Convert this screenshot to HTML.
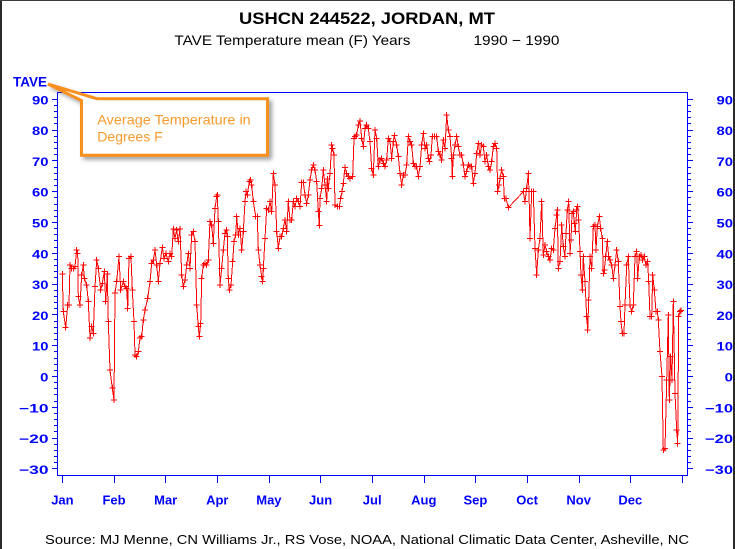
<!DOCTYPE html>
<html>
<head>
<meta charset="utf-8">
<style>
html,body{margin:0;padding:0;background:#fff;}
body{width:735px;height:549px;overflow:hidden;}
svg{display:block;}
</style>
</head>
<body>
<svg width="735" height="549" viewBox="0 0 735 549" xmlns="http://www.w3.org/2000/svg">
<defs>
<marker id="p" markerWidth="7" markerHeight="7" refX="3.5" refY="3.5" markerUnits="userSpaceOnUse">
<path d="M0.5 3.5h6M3.5 0.5v6" stroke="#ff0000" stroke-width="1" fill="none" shape-rendering="crispEdges"/>
</marker>
<filter id="sh" x="-10%" y="-20%" width="130%" height="160%">
<feDropShadow dx="3" dy="3" stdDeviation="2" flood-color="#555" flood-opacity="0.55"/>
</filter>
</defs>
<rect x="0" y="0" width="735" height="549" fill="#fff"/>
<!-- outer borders -->
<rect x="0" y="0" width="2" height="549" fill="#2a2a2a"/>
<rect x="733" y="0" width="2" height="549" fill="#2a2a2a"/>
<rect x="0" y="0" width="735" height="1" fill="#3a3a3a"/>

<!-- titles -->
<g font-family="Liberation Sans, Arial, sans-serif" fill="#000">
<text x="239" y="24" font-size="17" font-weight="bold" textLength="256" lengthAdjust="spacingAndGlyphs">USHCN 244522, JORDAN, MT</text>
<text x="174.4" y="45" font-size="14" textLength="236" lengthAdjust="spacingAndGlyphs">TAVE Temperature mean (F) Years</text>
<text x="473.5" y="45" font-size="14" textLength="86" lengthAdjust="spacingAndGlyphs">1990 − 1990</text>
<text x="45" y="544" font-size="12.5" textLength="644" lengthAdjust="spacingAndGlyphs">Source: MJ Menne, CN Williams Jr., RS Vose, NOAA, National Climatic Data Center, Asheville, NC</text>
</g>

<!-- frame -->
<rect x="57.5" y="92.5" width="630" height="383" fill="none" stroke="#0000ff" stroke-width="1"/>

<!-- y ticks -->
<g stroke="#0000ff" stroke-width="1" fill="none" shape-rendering="crispEdges">
<path d="M52 99.5h5M52 130.5h5M52 160.5h5M52 191.5h5M52 222.5h5M52 253.5h5M52 284.5h5M52 314.5h5M52 345.5h5M52 376.5h5M52 407.5h5M52 438.5h5M52 468.5h5"/>
<path d="M688 99.5h5M688 130.5h5M688 160.5h5M688 191.5h5M688 222.5h5M688 253.5h5M688 284.5h5M688 314.5h5M688 345.5h5M688 376.5h5M688 407.5h5M688 438.5h5M688 468.5h5"/>
<path d="M54 105.5h3M54 111.5h3M54 117.5h3M54 123.5h3M54 136.5h3M54 142.5h3M54 148.5h3M54 154.5h3M54 167.5h3M54 173.5h3M54 179.5h3M54 185.5h3M54 197.5h3M54 204.5h3M54 210.5h3M54 216.5h3M54 228.5h3M54 234.5h3M54 240.5h3M54 247.5h3M54 259.5h3M54 265.5h3M54 271.5h3M54 277.5h3M54 290.5h3M54 296.5h3M54 302.5h3M54 308.5h3M54 321.5h3M54 327.5h3M54 333.5h3M54 339.5h3M54 351.5h3M54 358.5h3M54 364.5h3M54 370.5h3M54 382.5h3M54 388.5h3M54 394.5h3M54 401.5h3M54 413.5h3M54 419.5h3M54 425.5h3M54 431.5h3M54 444.5h3M54 450.5h3M54 456.5h3M54 462.5h3"/>
<path d="M688 105.5h3M688 111.5h3M688 117.5h3M688 123.5h3M688 136.5h3M688 142.5h3M688 148.5h3M688 154.5h3M688 167.5h3M688 173.5h3M688 179.5h3M688 185.5h3M688 197.5h3M688 204.5h3M688 210.5h3M688 216.5h3M688 228.5h3M688 234.5h3M688 240.5h3M688 247.5h3M688 259.5h3M688 265.5h3M688 271.5h3M688 277.5h3M688 290.5h3M688 296.5h3M688 302.5h3M688 308.5h3M688 321.5h3M688 327.5h3M688 333.5h3M688 339.5h3M688 351.5h3M688 358.5h3M688 364.5h3M688 370.5h3M688 382.5h3M688 388.5h3M688 394.5h3M688 401.5h3M688 413.5h3M688 419.5h3M688 425.5h3M688 431.5h3M688 444.5h3M688 450.5h3M688 456.5h3M688 462.5h3"/>
<!-- x ticks -->
<path d="M62.5 476v7M114.5 476v7M165.5 476v7M217.5 476v7M269.5 476v7M320.5 476v7M372.5 476v7M424.5 476v7M475.5 476v7M527.5 476v7M579.5 476v7M630.5 476v7M682.5 476v7"/>
</g>

<!-- y labels -->
<g font-family="Liberation Sans, Arial, sans-serif" font-weight="bold" font-size="12" fill="#0000ff">
<text x="13" y="86.7" font-size="14" textLength="34" lengthAdjust="spacingAndGlyphs">TAVE</text>
<g text-anchor="end">
<text x="48.5" y="104.3" textLength="16.5" lengthAdjust="spacingAndGlyphs">90</text>
<text x="48.5" y="135.1" textLength="16.5" lengthAdjust="spacingAndGlyphs">80</text>
<text x="48.5" y="165.9" textLength="16.5" lengthAdjust="spacingAndGlyphs">70</text>
<text x="48.5" y="196.7" textLength="16.5" lengthAdjust="spacingAndGlyphs">60</text>
<text x="48.5" y="227.5" textLength="16.5" lengthAdjust="spacingAndGlyphs">50</text>
<text x="48.5" y="258.3" textLength="16.5" lengthAdjust="spacingAndGlyphs">40</text>
<text x="48.5" y="289.1" textLength="16.5" lengthAdjust="spacingAndGlyphs">30</text>
<text x="48.5" y="319.9" textLength="16.5" lengthAdjust="spacingAndGlyphs">20</text>
<text x="48.5" y="350.7" textLength="16.5" lengthAdjust="spacingAndGlyphs">10</text>
<text x="48.5" y="381.5" textLength="8.3" lengthAdjust="spacingAndGlyphs">0</text>
<text x="48.5" y="412.3" textLength="29.5" lengthAdjust="spacingAndGlyphs">−10</text>
<text x="48.5" y="443.1" textLength="29.5" lengthAdjust="spacingAndGlyphs">−20</text>
<text x="48.5" y="473.9" textLength="29.5" lengthAdjust="spacingAndGlyphs">−30</text>

<text x="733" y="104.3" textLength="16.5" lengthAdjust="spacingAndGlyphs">90</text>
<text x="733" y="135.1" textLength="16.5" lengthAdjust="spacingAndGlyphs">80</text>
<text x="733" y="165.9" textLength="16.5" lengthAdjust="spacingAndGlyphs">70</text>
<text x="733" y="196.7" textLength="16.5" lengthAdjust="spacingAndGlyphs">60</text>
<text x="733" y="227.5" textLength="16.5" lengthAdjust="spacingAndGlyphs">50</text>
<text x="733" y="258.3" textLength="16.5" lengthAdjust="spacingAndGlyphs">40</text>
<text x="733" y="289.1" textLength="16.5" lengthAdjust="spacingAndGlyphs">30</text>
<text x="733" y="319.9" textLength="16.5" lengthAdjust="spacingAndGlyphs">20</text>
<text x="733" y="350.7" textLength="16.5" lengthAdjust="spacingAndGlyphs">10</text>
<text x="733" y="381.5" textLength="8.3" lengthAdjust="spacingAndGlyphs">0</text>
<text x="733" y="412.3" textLength="28" lengthAdjust="spacingAndGlyphs">−10</text>
<text x="733" y="443.1" textLength="28" lengthAdjust="spacingAndGlyphs">−20</text>
<text x="733" y="473.9" textLength="28" lengthAdjust="spacingAndGlyphs">−30</text>
</g>
</g>

<!-- month labels -->
<g font-family="Liberation Sans, Arial, sans-serif" font-weight="bold" font-size="13" fill="#0000ff" text-anchor="middle">
<text x="62.4" y="504.3">Jan</text>
<text x="114" y="504.3">Feb</text>
<text x="165.7" y="504.3">Mar</text>
<text x="217.3" y="504.3">Apr</text>
<text x="268.9" y="504.3">May</text>
<text x="320.6" y="504.3">Jun</text>
<text x="372.2" y="504.3">Jul</text>
<text x="423.8" y="504.3">Aug</text>
<text x="475.4" y="504.3">Sep</text>
<text x="527.1" y="504.3">Oct</text>
<text x="578.7" y="504.3">Nov</text>
<text x="630.3" y="504.3">Dec</text>
</g>

<!-- data -->
<polyline fill="none" stroke="#ff0000" stroke-width="1" shape-rendering="crispEdges" stroke-linejoin="round" marker-start="url(#p)" marker-mid="url(#p)" marker-end="url(#p)" points="
62.3,274 63.3,311.7 65.7,327.7 67.7,305 69,305 70,265 71.7,268.3 73.3,268.3 75,266.7 76.7,250 77.7,253.3 78.3,296.7 80,305 81.7,275 83.3,265 84.3,278.3 86.7,285 88.3,301.7 90,338 91.7,326.7 93.3,333.3 95,286.7 96.7,260 98.3,268.3 100.7,290 102.3,283.3 104.3,271.7 105.7,301.7 107.3,274 108.3,321.7 110,370 112.3,388 114,400 115,293 116.7,281.7 119,256.7 120.7,290 123.3,281.7 125,286.7 126.7,288.3 127.7,308.3 129,258.3 131,256.7 132.3,290 134,321.7 135,355 136.7,356.7 138.3,351.7 140,338 141.7,336.7 143.3,320 145,310 147.7,298.3 150,281.7 151.7,263.3 153.3,260 155,250 156.7,265 158.3,281.7 160,263.3 162.3,247.3 164,258.3 166,253.3 168.3,261.7 170,253.3 171.7,256.7 173.3,229 175,238.3 176.7,230 178.3,241.7 180,229 181.7,275 183.3,286.7 185,280 186.7,265 188.3,253.3 190,268.3 191.7,235 193.3,231.7 195,241.7 196.7,305 198.3,326.7 199.3,336.7 200.7,323.3 201.7,278.3 203.3,265 205,263.3 206.7,265 208.3,260 210,221.7 211.7,225 213.3,243.3 215,208.3 216.7,196.7 217.3,195 218.3,221.7 220,285 221.7,268.3 223.3,250 225,233.3
226.7,230 227.3,236.7 228.3,278.3 229.3,290 231,285 232.7,261.7 234,241.7 235.7,235 236.7,216.7 238.3,235 240,228.3 241.7,250 243.3,231.7 245,201.7 246,191.7 247.3,195 249.3,181.7 250.7,180 251.7,185 253.3,201.7 255.7,216.7 257.3,216.7 258.3,250 260,265 261.7,276.7 262.7,281.7 263.3,268.3 265,238.3 266.7,208.3 268.3,210 270,201.7 271.7,211.7 273.3,173.3 275,185 276.7,231.7 278.3,248.3 280,236.7 281.7,236.7 283.3,228.3 285,220 286.7,231.7 288.3,201.7 290,220 291.7,220 293.3,201.7 295,206.7 296.7,198.3 298.3,201.7 300,206.7 301.7,182.3 303.3,182.3 305,195 306.7,203.3 308.3,195 310,180 311.7,170 313.3,165 315,170 316.7,181.7 318.3,211.7 319.3,225.7 320,198.3 321.7,188.3 323.3,170 325,185 326.7,201.7 327.3,179 328.3,188.3 330,173.3 331.7,145 332.7,148.3 334,155 335,205 337.3,206.7 339.3,206.7 340.7,198.3 342,191.7 343.3,183.3 345,167.7 346.7,173.3 348.3,176.7 350,178.3 352.7,176.7 354,138.3 355,136.7 356.7,135 358.3,125 360,121 361.7,138.3 363.3,146.7 365,128.3 366.7,125 368.3,128.3 370,141.7 371.7,168.3 373.3,175 375,130 376.7,138.3 378.3,166.7 380,160 381.7,158.3 383.3,163.3 385,166.7 386.7,160 388.3,138.3
390,141.7 391.7,158.3 393.3,141.7 394.3,135.7 396.7,145 398.3,156.7 400,173.3 401.7,185 403.3,175 405,175 406.7,165 408.3,136.7 410,141.7 411.7,145 413.3,163.3 415,166.7 416.7,166.7 418.3,176.7 420,166.7 421.7,145 423.3,133.3 425,148.3 426.7,145 428.3,158.3 429.3,161.7 431,155 432.3,136.7 434.3,136.7 436.7,136.7 438.3,151.7 440,155 441.7,160 443.3,140 445,148.3 446.7,115 448.3,130 450,136.7 451.7,158.3 452.3,176.7 453.3,155 455,145 456.7,136.7 458.3,146.7 460,155 461.7,155 463.3,165 465,176.7 466.7,171.7 468.3,165 470,166.7 471.7,166.7 473.3,183.3 475,173.3 476.7,153.3 478.3,143.3 480,155 481.7,145 483.3,146.7 485,161.7 486.7,155 488.3,166.7 490,170 491.7,161.7 493.3,146.7 495,143.3 496.7,148.3 497.7,191.7 499,185 500,178.3 501.7,170 503.3,176.7 504.3,198.3 506,198.3 508.3,207.7 523.3,191.7 525,201.7 526.7,188.3 528.3,173.3 529,191.7 530,238.3 531.7,191.7 533.3,191.7 535,248.3 536.7,275 538.3,250 540,238.3 541.7,201.7 543.3,255 545,245 546.7,251.7 548.3,256.7 550,260
551.7,248.3 553.3,250 555,228.3 556.7,215 557.3,210 558.3,268.3 560,261.7 561.7,225 563.3,246.7 565,256.7 566,233.3 567.3,210 568.7,201.7 570,253.3 571,240 572,213.3 573.3,211.7 574.3,223.3 575.3,231.7 576.7,210 577.7,206.7 578.7,220 580,251.7 581,275 582.3,290 583.3,256.7 585,281.7 586.7,316.7 587.7,330 588.7,300 590,256.7 591.7,268.3 593.3,226.7 595,225 596,250 597.3,226.7 599.3,216.7 600.7,228.3 602.3,238.3 603.3,273.3 604.3,270 605.7,256.7 607.3,241.7 608.7,256.7 610,260 611.7,265 613.3,278.3 615,265 616.7,250 618.3,261.7 620,306.7 621,321.7 622.3,333.3 624,333.3 625,305 626.7,265 628.3,256.7 630,305 631.7,311.7 633.3,305 635,256.7 636.7,251.7 637.7,278.3 639.3,256.7 641,255 642.7,260 644.3,256.7 646,265 647.7,261.7 648.7,281.7 650,316.7 651.7,316.7 652.7,275 654.3,290 656,311.7 657.3,311.7 658.3,320 660,351.7 662,376.7 663.3,450 665,448.3 666.7,380 668.3,315 669.3,400 670.7,356.7 672,380 673.3,301.7 675,393.3 676.7,430 677.7,443.3 678.7,316.7 680,311.7 681,310.7"/>

<!-- callout -->
<g filter="url(#sh)">
<path d="M48 84 L97 98.8 L267.5 98.8 L267.5 155.3 L81.5 155.3 L81.5 100.5 Z" fill="#fff" stroke="#f7901e" stroke-width="3" stroke-linejoin="miter"/>
</g>
<g font-family="Liberation Sans, Arial, sans-serif" font-size="14" fill="#f89a2c">
<text x="97.3" y="124.3" textLength="153.4" lengthAdjust="spacingAndGlyphs">Average Temperature in</text>
<text x="97.3" y="141.7">Degrees F</text>
</g>
</svg>
</body>
</html>
